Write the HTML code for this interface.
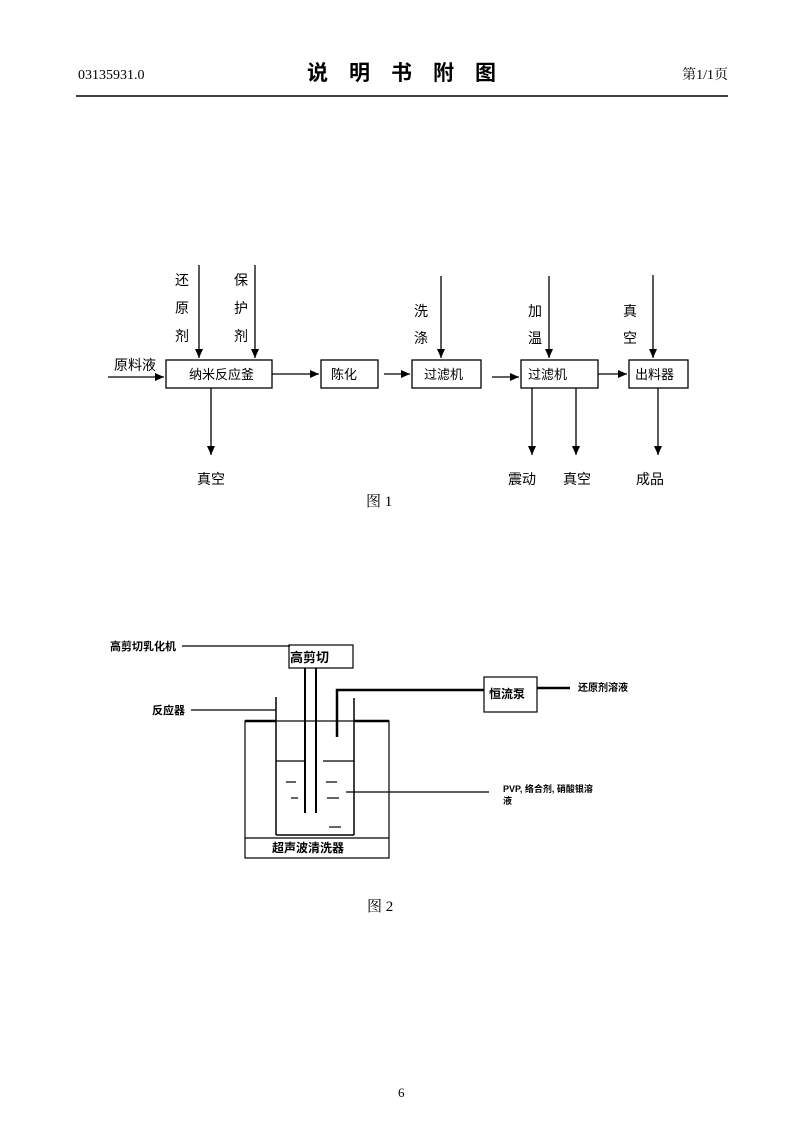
<!DOCTYPE html>
<html><head><meta charset="utf-8"><style>
html,body{margin:0;padding:0;background:#fff;}
svg{display:block;}
text{font-family:"Liberation Serif","Noto Serif CJK SC","Noto Sans CJK SC",serif;fill:#000;}
.s{font-family:"Liberation Sans","Noto Sans CJK SC",sans-serif;}
</style></head><body>
<svg width="800" height="1139" viewBox="0 0 800 1139" xmlns="http://www.w3.org/2000/svg">
<defs><marker id="a" markerWidth="10" markerHeight="10" refX="9" refY="5" orient="auto" markerUnits="userSpaceOnUse"><path d="M0,1 L9,5 L0,9 z" fill="#000"/></marker></defs>
<!-- header -->
<text x="78" y="79" font-size="14">03135931.0</text>
<text x="307" y="80" font-size="21" font-weight="bold" class="s" letter-spacing="21">说明书附图</text>
<text x="728" y="79" font-size="14" text-anchor="end">第1/1页</text>
<line x1="76" y1="96" x2="728" y2="96" stroke="#000" stroke-width="1.5"/>
<!-- fig 1 -->
<g stroke="#000" stroke-width="1.3" fill="none">
<rect x="166" y="360" width="106" height="28"/>
<rect x="321" y="360" width="57" height="28"/>
<rect x="412" y="360" width="69" height="28"/>
<rect x="521" y="360" width="77" height="28"/>
<rect x="629" y="360" width="59" height="28"/>
<line x1="108" y1="377" x2="164" y2="377" marker-end="url(#a)"/>
<line x1="272" y1="374" x2="319" y2="374" marker-end="url(#a)"/>
<line x1="384" y1="374" x2="410" y2="374" marker-end="url(#a)"/>
<line x1="492" y1="377" x2="519" y2="377" marker-end="url(#a)"/>
<line x1="598" y1="374" x2="627" y2="374" marker-end="url(#a)"/>
<line x1="199" y1="265" x2="199" y2="358" marker-end="url(#a)"/>
<line x1="255" y1="265" x2="255" y2="358" marker-end="url(#a)"/>
<line x1="441" y1="276" x2="441" y2="358" marker-end="url(#a)"/>
<line x1="549" y1="276" x2="549" y2="358" marker-end="url(#a)"/>
<line x1="653" y1="275" x2="653" y2="358" marker-end="url(#a)"/>
<line x1="211" y1="388" x2="211" y2="455" marker-end="url(#a)"/>
<line x1="532" y1="388" x2="532" y2="455" marker-end="url(#a)"/>
<line x1="576" y1="388" x2="576" y2="455" marker-end="url(#a)"/>
<line x1="658" y1="388" x2="658" y2="455" marker-end="url(#a)"/>
</g>
<g font-size="14" class="s">
<text x="175" y="285" class="s">还</text><text x="175" y="313" class="s">原</text><text x="175" y="341" class="s">剂</text>
<text x="234" y="285" class="s">保</text><text x="234" y="313" class="s">护</text><text x="234" y="341" class="s">剂</text>
<text x="414" y="316" class="s">洗</text><text x="414" y="343" class="s">涤</text>
<text x="528" y="316" class="s">加</text><text x="528" y="343" class="s">温</text>
<text x="623" y="316" class="s">真</text><text x="623" y="343" class="s">空</text>
<text x="114" y="370" class="s">原料液</text>
<text x="189" y="379" class="s" font-size="13">纳米反应釜</text>
<text x="331" y="379" class="s" font-size="13">陈化</text>
<text x="424" y="379" class="s" font-size="13">过滤机</text>
<text x="528" y="379" class="s" font-size="13">过滤机</text>
<text x="635" y="379" class="s" font-size="13">出料器</text>
<text x="197" y="484" class="s">真空</text>
<text x="508" y="484" class="s">震动</text>
<text x="563" y="484" class="s">真空</text>
<text x="636" y="484" class="s">成品</text>
</g>
<text x="366" y="506" font-size="15">图 1</text>
<!-- fig 2 -->
<g stroke="#000" stroke-width="1.2" fill="none">
<line x1="182" y1="646" x2="290" y2="646"/>
<rect x="289" y="645" width="64" height="23"/>
<line x1="305" y1="668" x2="305" y2="813" stroke-width="2"/>
<line x1="316" y1="668" x2="316" y2="813" stroke-width="2"/>
<rect x="484" y="677" width="53" height="35"/>
<path d="M337,737 V690 H484" stroke-width="2.5"/>
<line x1="537" y1="688" x2="570" y2="688" stroke-width="2.5"/>
<line x1="191" y1="710" x2="276" y2="710"/>
<line x1="276" y1="697" x2="276" y2="835" stroke-width="1.5"/>
<line x1="354" y1="698" x2="354" y2="835" stroke-width="1.5"/>
<line x1="276" y1="835" x2="354" y2="835" stroke-width="1.5"/>
<rect x="245" y="721" width="144" height="137"/>
<line x1="245" y1="721" x2="276" y2="721" stroke-width="2.5"/>
<line x1="354" y1="721" x2="389" y2="721" stroke-width="2.5"/>
<line x1="245" y1="838" x2="389" y2="838"/>
<line x1="276" y1="761" x2="304" y2="761"/>
<line x1="323" y1="761" x2="354" y2="761"/>
<line x1="286" y1="782" x2="296" y2="782"/>
<line x1="326" y1="782" x2="337" y2="782"/>
<line x1="291" y1="798" x2="298" y2="798"/>
<line x1="327" y1="798" x2="339" y2="798"/>
<line x1="329" y1="827" x2="341" y2="827"/>
<line x1="346" y1="792" x2="489" y2="792"/>
</g>
<g class="s" font-weight="bold">
<text x="110" y="650" font-size="11" class="s">高剪切乳化机</text>
<text x="290" y="662" font-size="13" class="s">高剪切</text>
<text x="489" y="698" font-size="12" class="s">恒流泵</text>
<text x="578" y="691" font-size="10" class="s">还原剂溶液</text>
<text x="152" y="714" font-size="11" class="s">反应器</text>
<text x="503" y="792" font-size="9" class="s">PVP, 络合剂, 硝酸银溶</text>
<text x="503" y="804" font-size="9" class="s">液</text>
<text x="272" y="852" font-size="12" class="s">超声波清洗器</text>
</g>
<text x="367" y="911" font-size="15">图 2</text>
<text x="398" y="1097" font-size="13">6</text>
</svg>
</body></html>
